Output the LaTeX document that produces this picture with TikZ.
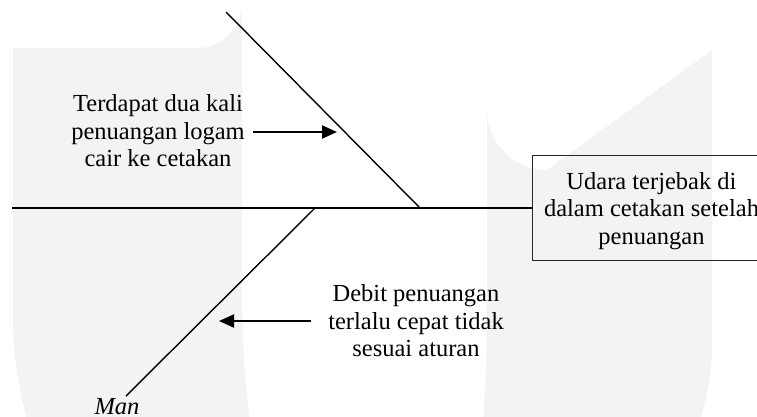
\documentclass[tikz,border=0pt]{standalone}
\usepackage{fontspec}
\setmainfont{Liberation Serif}
\usetikzlibrary{arrows.meta}
\definecolor{wm}{RGB}{243,243,243}
\tikzset{
  bone/.style={line width=1.4pt, black},
  causearrow/.style={line width=2pt, -{Triangle[length=15pt,width=13pt]}},
  txt/.style={align=center, inner sep=0pt, font=\fontsize{24.5}{27.5}\selectfont},
  effbox/.style={minimum width=237pt, minimum height=104pt, inner sep=0pt, text depth=0pt, align=center, font=\fontsize{24.5}{27.5}\selectfont},
  boxline/.style={draw=black!85, line width=1.2pt},
}
\begin{document}
\begin{tikzpicture}[x=1pt,y=-1pt]
\useasboundingbox (0,0) rectangle (757,416);
\clip (0,0) rectangle (757,416);
% watermark
\fill[wm] (13,48) -- (197,48) arc[start angle=90,end angle=0,radius=45] -- (242,300)
  .. controls (243,360) and (246,395) .. (250,420) -- (27,420)
  .. controls (18,385) and (13,355) .. (13,320) -- cycle;
\fill[wm] (483,420) .. controls (486,385) and (487,340) .. (487,300) -- (487,110)
  arc[start angle=180,end angle=90,radius=60] -- (712,50) -- (712,345)
  .. controls (712,375) and (706,400) .. (700,420) -- cycle;
% effect (box runs off the right edge)
\node[effbox] (eff) at (651.5,208) {Udara terjebak di\\dalam cetakan setelah\\penuangan};
\draw[boxline] ([xshift=40pt]eff.north east) -- (eff.north west) -- (eff.south west) -- ([xshift=40pt]eff.south east);
% spine and bones
\coordinate (tail) at (12,208);
\coordinate (j1) at (420,208);
\coordinate (j2) at (315,208);
\coordinate (b1) at (226,12);
\coordinate (b2) at (126,396);
\draw[bone] (tail) -- (eff.west);
\draw[bone] (b1) -- (j1);
\draw[bone] (j2) -- (b2);
% causes
\node[txt] (c1) at (158,131) {Terdapat dua kali\\penuangan logam\\cair ke cetakan};
\node[txt] (c2) at (416,321) {Debit penuangan\\terlalu cepat tidak\\sesuai aturan};
\coordinate (a1s) at (253,132);
\coordinate (a1e) at (337,132);
\coordinate (a2s) at (311,321);
\coordinate (a2e) at (219,321);
\draw[causearrow] (a1s) -- (a1e);
\draw[causearrow] (a2s) -- (a2e);
\node[txt, font=\fontsize{24.5}{27.5}\selectfont\itshape, anchor=base] (man) at (117,414) {Man};
\end{tikzpicture}
\end{document}
